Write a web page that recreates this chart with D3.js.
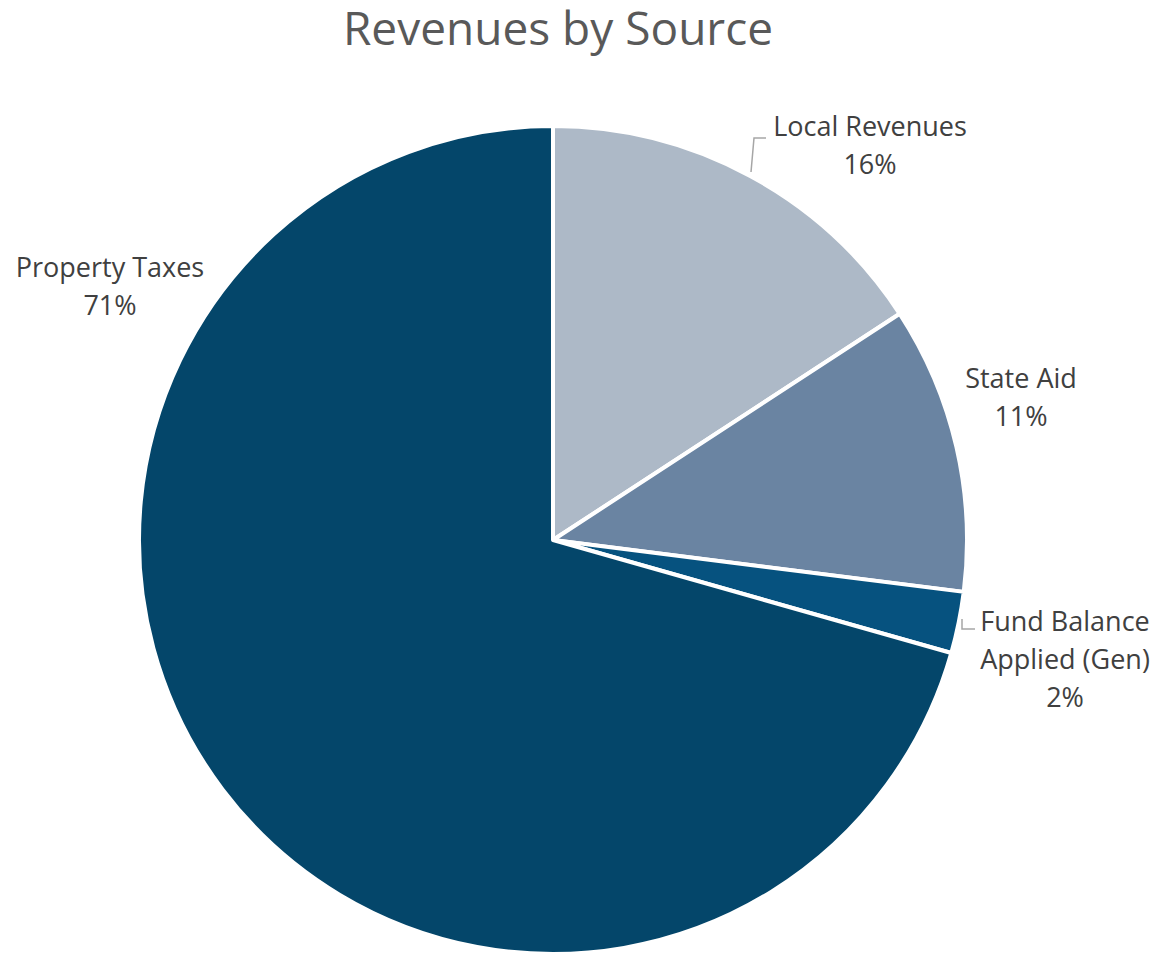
<!DOCTYPE html>
<html>
<head>
<meta charset="utf-8">
<script src="https://cdn.jsdelivr.net/npm/d3@7"></script>
<style>
  body { margin: 0; background: #fff; }
  svg { display: block; font-family: "Open Sans", Lato, sans-serif; }
</style>
</head>
<body>
<div id="chart"></div>
<script>
const categories = ["Local Revenues", "State Aid", "Fund Balance Applied (Gen)", "Property Taxes"];
const values = [15.8, 11.2, 2.4, 70.6];
const pctLabels = ["16%", "11%", "2%", "71%"];
const colors = ["#adb9c7", "#6a84a2", "#06527f", "#04466a"];

// label text lines + placement (centre x, first baseline y)
const labelLines = [["Local Revenues", "16%"], ["State Aid", "11%"], ["Fund Balance", "Applied (Gen)", "2%"], ["Property Taxes", "71%"]];
const labelPos = [[870, 136], [1021, 388], [1065, 631], [110, 277]];

const W = 1156, H = 953;
const cx = 553, cy = 540, r = 414;

const svg = d3.select("#chart")
  .append("svg")
  .attr("width", W)
  .attr("height", H);

svg.append("text")
  .attr("x", 558)
  .attr("y", 45)
  .attr("text-anchor", "middle")
  .attr("font-size", 46)
  .attr("fill", "#595959")
  .text("Revenues by Source");

const pie = d3.pie().sort(null).value(d => d);
const arc = d3.arc().innerRadius(0).outerRadius(r);
const arcs = pie(values);

const g = svg.append("g").attr("transform", `translate(${cx},${cy})`);

g.selectAll("path")
  .data(arcs)
  .enter()
  .append("path")
  .attr("d", arc)
  .attr("fill", (d, i) => colors[i])
  .attr("stroke", "#fff")
  .attr("stroke-width", 4)
  .attr("stroke-linejoin", "round");

// leader lines
const leaders = [
  [[751, 172], [754, 138], [766, 138]],
  [[962, 619], [962, 629], [975, 629]]
];
svg.selectAll(".leader")
  .data(leaders)
  .enter()
  .append("path")
  .attr("class", "leader")
  .attr("d", d3.line())
  .attr("fill", "none")
  .attr("stroke", "#a6a6a6")
  .attr("stroke-width", 1.5);

// labels
const labels = svg.selectAll(".lbl")
  .data(labelLines)
  .enter()
  .append("text")
  .attr("class", "lbl")
  .attr("text-anchor", "middle")
  .attr("font-size", 27)
  .attr("fill", "#404040")
  .attr("transform", (d, i) => `translate(${labelPos[i][0]},${labelPos[i][1]})`);

labels.selectAll("tspan")
  .data(d => d)
  .enter()
  .append("tspan")
  .attr("x", 0)
  .attr("y", (d, i) => i * 38)
  .text(d => d);
</script>
</body>
</html>
